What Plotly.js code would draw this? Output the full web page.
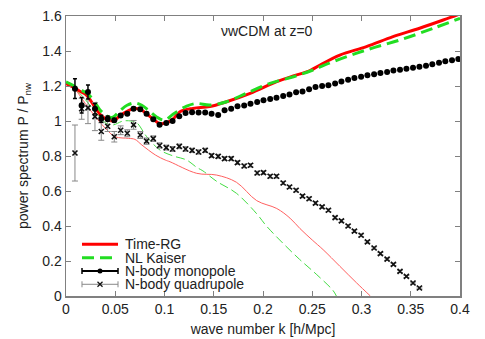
<!DOCTYPE html>
<html>
<head>
<meta charset="utf-8">
<script src="https://cdn.plot.ly/plotly-3.0.1.min.js"></script>
<style>
  html, body { margin: 0; padding: 0; background: #fff; }
  #chart { width: 485px; height: 339px; }
</style>
</head>
<body>
<div id="chart"></div>
<script>
// ===== data =====
// Time-RG monopole (thick red)
const trgMonoK = [0, 0.007, 0.014, 0.021, 0.028, 0.035, 0.041, 0.048, 0.055, 0.062, 0.068, 0.075, 0.082, 0.089, 0.095, 0.102, 0.109, 0.1157, 0.129, 0.146, 0.163, 0.187, 0.214, 0.2308, 0.2477, 0.258, 0.278, 0.305, 0.332, 0.359, 0.383, 0.4];
const trgMonoP = [1.213, 1.194, 1.17, 1.147, 1.09, 1.035, 1.01, 1.0, 1.032, 1.055, 1.07, 1.068, 1.04, 1.008, 0.985, 0.99, 1.013, 1.053, 1.072, 1.082, 1.11, 1.158, 1.225, 1.257, 1.288, 1.32, 1.377, 1.425, 1.482, 1.53, 1.577, 1.612];

// NL Kaiser monopole (thick green dashed)
const kaiMonoK = [0, 0.007, 0.014, 0.021, 0.028, 0.035, 0.041, 0.047, 0.055, 0.062, 0.07, 0.077, 0.084, 0.092, 0.1, 0.109, 0.1225, 0.1327, 0.146, 0.163, 0.183, 0.207, 0.231, 0.25, 0.271, 0.305, 0.339, 0.373, 0.4];
const kaiMonoP = [1.223, 1.204, 1.18, 1.16, 1.118, 1.06, 1.03, 1.02, 1.06, 1.09, 1.103, 1.09, 1.06, 1.023, 1.005, 1.04, 1.085, 1.1, 1.091, 1.11, 1.158, 1.215, 1.253, 1.29, 1.339, 1.406, 1.463, 1.53, 1.587];

// Time-RG quadrupole (thin red)
const trgQuadK = [0, 0.0095, 0.0196, 0.0298, 0.04, 0.05, 0.0636, 0.07, 0.077, 0.0907, 0.1008, 0.1056, 0.1327, 0.153, 0.173, 0.1936, 0.214, 0.2274, 0.2376, 0.25, 0.261, 0.278, 0.295, 0.309];
const trgQuadP = [1.21, 1.177, 1.10, 1.025, 0.958, 0.91, 0.901, 0.895, 0.863, 0.806, 0.777, 0.767, 0.701, 0.691, 0.65, 0.545, 0.50, 0.445, 0.385, 0.32, 0.265, 0.17, 0.075, 0];

// NL Kaiser quadrupole (thin green dashed)
const kaiQuadK = [0, 0.01, 0.02, 0.03, 0.04, 0.047, 0.058, 0.066, 0.0718, 0.082, 0.0954, 0.109, 0.1225, 0.1327, 0.139, 0.153, 0.173, 0.1936, 0.2035, 0.2205, 0.237, 0.254, 0.271, 0.2745];
const kaiQuadP = [1.22, 1.18, 1.12, 1.05, 0.99, 0.977, 1.0, 1.0, 0.99, 0.91, 0.834, 0.8, 0.777, 0.735, 0.715, 0.655, 0.587, 0.47, 0.4, 0.3, 0.21, 0.125, 0.032, 0];

// N-body monopole
const nbMonoK = [0.0091, 0.0159, 0.0223, 0.0294, 0.0358, 0.0423, 0.049, 0.0555, 0.0622, 0.0686, 0.0754, 0.0818, 0.0886, 0.095, 0.1018, 0.1082, 0.115, 0.1214, 0.128, 0.1346, 0.1413, 0.1478, 0.1545, 0.161, 0.1677, 0.1741, 0.1809, 0.1873, 0.1941, 0.2005, 0.2073, 0.2137, 0.2205, 0.2269, 0.2336, 0.2401, 0.2468, 0.2533, 0.26, 0.2664, 0.2732, 0.2796, 0.2864, 0.2928, 0.2996, 0.306, 0.3128, 0.3192, 0.326, 0.3324, 0.3391, 0.3456, 0.3523, 0.3588, 0.3655, 0.3719, 0.3787, 0.3851, 0.3919, 0.3983];
const nbMonoP = [1.185, 1.09, 1.166, 1.07, 1.013, 1.013, 1.004, 1.032, 1.042, 1.07, 1.067, 1.042, 1.01, 0.979, 0.989, 1.0, 1.027, 1.046, 1.05, 1.048, 1.048, 1.042, 1.034, 1.061, 1.07, 1.084, 1.088, 1.099, 1.109, 1.118, 1.126, 1.133, 1.143, 1.152, 1.164, 1.168, 1.181, 1.194, 1.2, 1.204, 1.215, 1.225, 1.236, 1.246, 1.253, 1.261, 1.267, 1.274, 1.28, 1.288, 1.293, 1.299, 1.305, 1.31, 1.316, 1.324, 1.333, 1.341, 1.347, 1.354];
const nbMonoErr = [0.057, 0.045, 0.04, 0.03, 0.02, 0.015, 0.01, 0.01, 0.008, 0.008, 0.007, 0.006, 0.006, 0.005, 0.005, 0.005, 0.004, 0.004, 0.004, 0.004, 0.004, 0.004, 0.003, 0.003, 0.003, 0.003, 0.003, 0.003, 0.003, 0.003, 0.003, 0.003, 0.003, 0.003, 0.003, 0.003, 0.003, 0.003, 0.003, 0.003, 0.003, 0.003, 0.003, 0.003, 0.003, 0.003, 0.003, 0.003, 0.003, 0.003, 0.003, 0.003, 0.003, 0.003, 0.003, 0.003, 0.003, 0.003, 0.003, 0.003];

// N-body quadrupole (same k bins, stops at k ~ 0.36)
const nbQuadK = nbMonoK.slice(0, 54);
const nbQuadP = [0.817, 1.07, 1.075, 1.025, 0.94, 0.97, 0.91, 0.947, 0.93, 0.978, 0.92, 0.885, 0.899, 0.86, 0.848, 0.84, 0.855, 0.84, 0.832, 0.823, 0.832, 0.802, 0.798, 0.785, 0.785, 0.762, 0.743, 0.747, 0.703, 0.705, 0.684, 0.684, 0.646, 0.623, 0.604, 0.571, 0.556, 0.531, 0.509, 0.49, 0.448, 0.429, 0.4, 0.371, 0.347, 0.309, 0.274, 0.242, 0.211, 0.181, 0.141, 0.112, 0.074, 0.046];
const nbQuadErr = [0.16, 0.06, 0.09, 0.08, 0.05, 0.03, 0.03, 0.025, 0.02, 0.025, 0.02, 0.018, 0.016, 0.015, 0.014, 0.014, 0.013, 0.013, 0.012, 0.012, 0.012, 0.011, 0.011, 0.011, 0.011, 0.01, 0.01, 0.01, 0.01, 0.01, 0.01, 0.01, 0.009, 0.009, 0.009, 0.009, 0.009, 0.009, 0.008, 0.008, 0.008, 0.008, 0.008, 0.008, 0.008, 0.007, 0.007, 0.007, 0.007, 0.007, 0.007, 0.006, 0.006, 0.006];

const legendNames = ["Time-RG", "NL Kaiser", "N-body monopole", "N-body quadrupole"];

// ===== style =====
const FONT = "Liberation Sans, Arial, sans-serif";
const FS = 14;
const RED = "#ff0000";
const GREEN = "#22dd22";
const AXIS = "#808080";

const traces = [
  { x: trgQuadK, y: trgQuadP, mode: "lines", line: { color: "#ff6060", width: 1, shape: "spline" }, hoverinfo: "skip" },
  { x: kaiQuadK, y: kaiQuadP, mode: "lines", line: { color: "#44dd44", width: 1, dash: "9px,4px", shape: "spline" }, hoverinfo: "skip" },
  { x: trgMonoK, y: trgMonoP, mode: "lines", line: { color: RED, width: 3, shape: "spline" } },
  { x: kaiMonoK, y: kaiMonoP, mode: "lines", line: { color: GREEN, width: 3, dash: "12px,6px", shape: "spline" } },
  {
    x: nbQuadK, y: nbQuadP, mode: "markers",
    marker: { symbol: "x-thin-open", size: 5, color: "#111", line: { width: 1.6, color: "#111" } },
    error_y: { type: "data", array: nbQuadErr, visible: true, color: "#888", thickness: 1, width: 3 }
  },
  {
    x: nbMonoK, y: nbMonoP, mode: "markers",
    marker: { symbol: "circle", size: 6, color: "#000" },
    error_y: { type: "data", array: nbMonoErr, visible: true, color: "#000", thickness: 1.5, width: 2 }
  }
];

// hand-made gnuplot style key
const keyX0 = 0.0406, keyX1 = 0.132, keyMid = 0.0863, keyText = 0.148;
const keyY = [0.1846, 0.1368, 0.0893, 0.0418];
const shapes = [
  { type: "line", xref: "paper", yref: "paper", x0: keyX0, x1: keyX1, y0: keyY[0], y1: keyY[0], line: { color: RED, width: 3 } },
  { type: "line", xref: "paper", yref: "paper", x0: keyX0, x1: keyX1, y0: keyY[1], y1: keyY[1], line: { color: GREEN, width: 3, dash: "12px,6px" } },
  { type: "line", xref: "paper", yref: "paper", x0: keyX0, x1: keyX1, y0: keyY[2], y1: keyY[2], line: { color: "#000", width: 2 } },
  { type: "line", xref: "paper", yref: "paper", x0: keyX0, x1: keyX1, y0: keyY[3], y1: keyY[3], line: { color: "#888", width: 1 } }
];
[[2, "#000", 1.5], [3, "#888", 1]].forEach(([i, c, w]) => {
  [keyX0, keyX1].forEach(xx => {
    shapes.push({ type: "line", xref: "paper", yref: "paper", ysizemode: "pixel", yanchor: keyY[i],
      x0: xx, x1: xx, y0: -3, y1: 3, line: { color: c, width: w } });
  });
});
shapes.push({ type: "circle", xref: "paper", yref: "paper", xsizemode: "pixel", ysizemode: "pixel",
  xanchor: keyMid, yanchor: keyY[2], x0: -2.5, x1: 2.5, y0: -2.5, y1: 2.5, fillcolor: "#000", line: { width: 0 } });
// the little "x" of the quadrupole key
[[-2.5, 2.5], [2.5, -2.5]].forEach(([ya, yb]) => {
  shapes.push({ type: "line", xref: "paper", yref: "paper", xsizemode: "pixel", ysizemode: "pixel",
    xanchor: keyMid, yanchor: keyY[3], x0: -2.5, x1: 2.5, y0: ya, y1: yb, line: { color: "#111", width: 1.2 } });
});

const annotations = legendNames.map((n, i) => ({
  text: n, xref: "paper", yref: "paper", x: keyText, y: keyY[i], xanchor: "left", yanchor: "middle",
  borderpad: 0, showarrow: false, font: { family: FONT, size: FS, color: "#222" }
}));
annotations.push({
  text: "νwCDM at z=0", xref: "paper", yref: "paper", x: 0.51, y: 0.946, xanchor: "center", yanchor: "middle",
  showarrow: false, font: { family: FONT, size: FS, color: "#222" }
});

const axisCommon = {
  showline: true, linecolor: AXIS, linewidth: 1.5, mirror: "ticks",
  ticks: "inside", ticklen: 5, tickcolor: AXIS, tickwidth: 1,
  showgrid: false, zeroline: false,
  tickfont: { family: FONT, size: FS, color: "#222" }
};

const layout = {
  width: 485, height: 339,
  margin: { l: 66, r: 25, t: 16, b: 43 },
  paper_bgcolor: "#fff", plot_bgcolor: "#fff",
  showlegend: false,
  font: { family: FONT, size: FS, color: "#222" },
  xaxis: { ...axisCommon, range: [0, 0.4], dtick: 0.05, tick0: 0,
    title: { text: "wave number k [h/Mpc]", font: { family: FONT, size: FS, color: "#222" }, standoff: 8 } },
  yaxis: { ...axisCommon, range: [0, 1.6], dtick: 0.2, tick0: 0,
    title: { text: "power spectrum P / P<sub>nw</sub>", font: { family: FONT, size: FS, color: "#222" }, standoff: 10 } },
  shapes: shapes,
  annotations: annotations
};

Plotly.newPlot("chart", traces, layout, { displayModeBar: false, staticPlot: true });
</script>
</body>
</html>
